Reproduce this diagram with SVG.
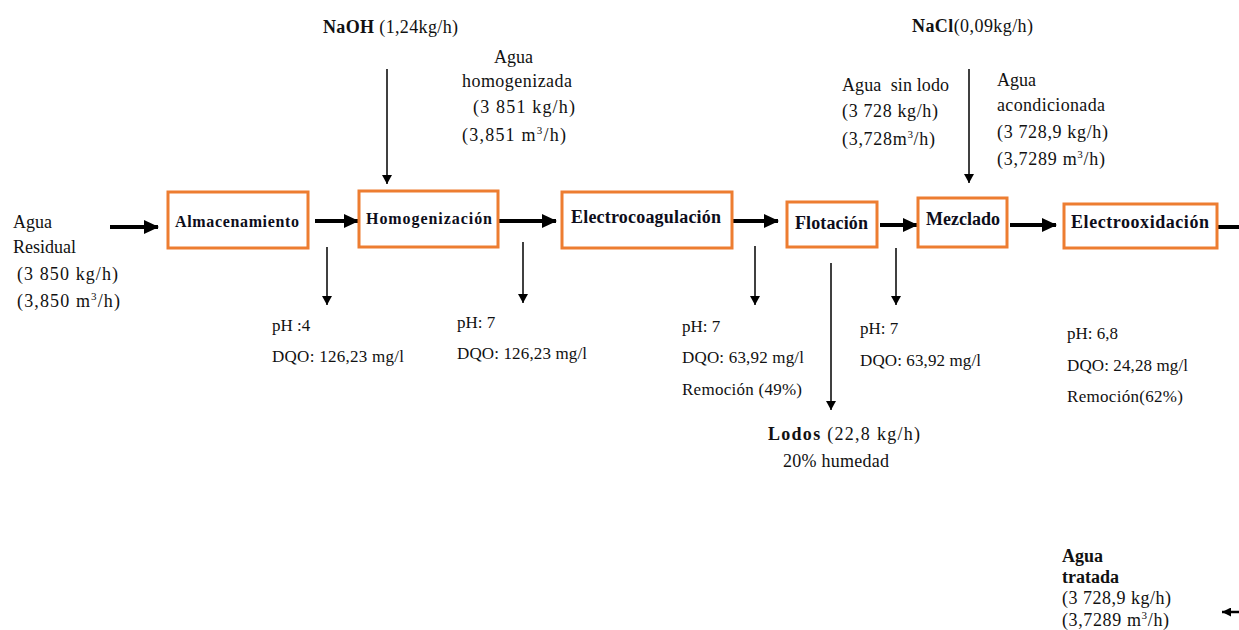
<svg xmlns="http://www.w3.org/2000/svg" width="1239" height="630" viewBox="0 0 1239 630">
<style>
text{font-family:"Liberation Serif","Times New Roman",serif;fill:#111;}
.t{font-size:18px;}
.s{font-size:17px;}
.b{font-weight:bold;}
.box{fill:#fff;stroke:#ED7D31;stroke-width:3;}
.lbl{font-weight:bold;fill:#0d0d1a;}
.main{stroke:#000;stroke-width:4;fill:none;}
.thin{stroke:#000;stroke-width:1.5;fill:none;}
.sup{font-size:11px;}
</style>
<defs>
<marker id="ah" markerUnits="userSpaceOnUse" markerWidth="15" markerHeight="14" refX="14" refY="7" orient="auto">
<path d="M0,0 L15,7 L0,14 z" fill="#000"/>
</marker>
<marker id="ahs" markerUnits="userSpaceOnUse" markerWidth="9" markerHeight="10" refX="9" refY="5" orient="auto">
<path d="M0,0 L9,5 L0,10 z" fill="#000"/>
</marker>
<marker id="ahm" markerUnits="userSpaceOnUse" markerWidth="9" markerHeight="9" refX="9" refY="4.5" orient="auto">
<path d="M0,0 L9,4.5 L0,9 z" fill="#000"/>
</marker>
</defs>

<g id="connectors">
<line class="main" x1="110" y1="227" x2="158" y2="227" marker-end="url(#ah)"/>
<line class="main" x1="315" y1="221" x2="358" y2="221" marker-end="url(#ah)"/>
<line class="main" x1="499" y1="221" x2="556" y2="221" marker-end="url(#ah)"/>
<line class="main" x1="733" y1="221" x2="778" y2="221" marker-end="url(#ah)"/>
<line class="main" x1="880" y1="225" x2="917" y2="225" marker-end="url(#ah)"/>
<line class="main" x1="1010" y1="225" x2="1056" y2="225" marker-end="url(#ah)"/>
<line class="main" x1="1217" y1="227" x2="1239" y2="227"/>
<line x1="1239" y1="612" x2="1222" y2="612" stroke="#000" stroke-width="2.5" marker-end="url(#ahm)"/>
<line class="thin" x1="387" y1="69" x2="387" y2="184" marker-end="url(#ahs)"/>
<line class="thin" x1="969" y1="69" x2="969" y2="183" marker-end="url(#ahs)"/>
<line class="thin" x1="327" y1="247" x2="327" y2="305" marker-end="url(#ahs)"/>
<line class="thin" x1="523" y1="242" x2="523" y2="303" marker-end="url(#ahs)"/>
<line class="thin" x1="755" y1="246" x2="755" y2="305" marker-end="url(#ahs)"/>
<line class="thin" x1="831" y1="263" x2="831" y2="410" stroke-width="2" marker-end="url(#ahs)"/>
<line class="thin" x1="896" y1="248" x2="896" y2="305" marker-end="url(#ahs)"/>
</g>

<g id="almacenamiento">
<rect class="box" x="168" y="192" width="140" height="56"/>
<text class="s lbl" x="175" y="227" textLength="124" lengthAdjust="spacing" style="font-size:16px">Almacenamiento</text>
</g>
<g id="homogenizacion">
<rect class="box" x="359" y="191" width="139" height="56"/>
<text class="s lbl" x="366" y="224" textLength="126" lengthAdjust="spacing" style="font-size:16px">Homogenización</text>
</g>
<g id="electrocoagulacion">
<rect class="box" x="562" y="192" width="170" height="56"/>
<text class="t lbl" x="571" y="223" textLength="150" lengthAdjust="spacing">Electrocoagulación</text>
</g>
<g id="flotacion">
<rect class="box" x="787" y="202" width="90" height="45"/>
<text class="t lbl" x="795" y="229" textLength="73" lengthAdjust="spacing">Flotación</text>
</g>
<g id="mezclado">
<rect class="box" x="918" y="198" width="89" height="49"/>
<text class="t lbl" x="926" y="225" textLength="74" lengthAdjust="spacing">Mezclado</text>
</g>
<g id="electrooxidacion">
<rect class="box" x="1064" y="204" width="153" height="44"/>
<text class="t lbl" x="1071" y="228" textLength="138" lengthAdjust="spacing">Electrooxidación</text>
</g>

<g id="agua-residual">
<text class="t" x="13" y="228">Agua</text>
<text class="t" x="13" y="253">Residual</text>
<text class="t" x="17" y="280" textLength="101" lengthAdjust="spacing">(3 850 kg/h)</text>
<text class="t" x="17" y="307" textLength="103" lengthAdjust="spacing">(3,850 m<tspan class="sup" dy="-7">3</tspan><tspan dy="7">/h)</tspan></text>
</g>

<g id="naoh">
<text class="t" x="323" y="33" textLength="135" lengthAdjust="spacing"><tspan class="b">NaOH</tspan> (1,24kg/h)</text>
</g>

<g id="agua-homogenizada">
<text class="t" x="494" y="63">Agua</text>
<text class="t" x="462" y="87" textLength="110" lengthAdjust="spacing">homogenizada</text>
<text class="t" x="473" y="113" textLength="102" lengthAdjust="spacing">(3 851 kg/h)</text>
<text class="t" x="462" y="141" textLength="104" lengthAdjust="spacing">(3,851 m<tspan class="sup" dy="-7">3</tspan><tspan dy="7">/h)</tspan></text>
</g>

<g id="nacl">
<text class="t" x="912" y="32" textLength="121" lengthAdjust="spacing"><tspan class="b">NaCl</tspan>(0,09kg/h)</text>
</g>

<g id="agua-sin-lodo">
<text class="t" x="842" y="91" textLength="107" lengthAdjust="spacing" style="white-space:pre">Agua  sin lodo</text>
<text class="t" x="842" y="117" textLength="96" lengthAdjust="spacing">(3 728 kg/h)</text>
<text class="t" x="842" y="145" textLength="93" lengthAdjust="spacing">(3,728m<tspan class="sup" dy="-7">3</tspan><tspan dy="7">/h)</tspan></text>
</g>

<g id="agua-acondicionada">
<text class="t" x="997" y="86">Agua</text>
<text class="t" x="997" y="111" textLength="108" lengthAdjust="spacing">acondicionada</text>
<text class="t" x="997" y="138" textLength="111" lengthAdjust="spacing">(3 728,9 kg/h)</text>
<text class="t" x="997" y="165" textLength="108" lengthAdjust="spacing">(3,7289 m<tspan class="sup" dy="-7">3</tspan><tspan dy="7">/h)</tspan></text>
</g>

<g id="param-1">
<text class="s" x="272" y="331">pH :4</text>
<text class="s" x="272" y="362" textLength="132" lengthAdjust="spacing">DQO: 126,23 mg/l</text>
</g>
<g id="param-2">
<text class="s" x="457" y="328">pH: 7</text>
<text class="s" x="457" y="359" textLength="130" lengthAdjust="spacing">DQO: 126,23 mg/l</text>
</g>
<g id="param-3">
<text class="s" x="682" y="332">pH: 7</text>
<text class="s" x="682" y="363" textLength="122" lengthAdjust="spacing">DQO: 63,92 mg/l</text>
<text class="s" x="682" y="395" textLength="120" lengthAdjust="spacing">Remoción (49%)</text>
</g>
<g id="param-4">
<text class="s" x="860" y="334">pH: 7</text>
<text class="s" x="860" y="366" textLength="121" lengthAdjust="spacing">DQO: 63,92 mg/l</text>
</g>
<g id="param-5">
<text class="s" x="1067" y="339">pH: 6,8</text>
<text class="s" x="1067" y="371" textLength="121" lengthAdjust="spacing">DQO: 24,28 mg/l</text>
<text class="s" x="1067" y="402" textLength="116" lengthAdjust="spacing">Remoción(62%)</text>
</g>

<g id="lodos">
<text class="t" x="768" y="440" textLength="152" lengthAdjust="spacing"><tspan class="b">Lodos</tspan> (22,8 kg/h)</text>
<text class="t" x="783" y="467" textLength="106" lengthAdjust="spacing">20% humedad</text>
</g>

<g id="agua-tratada">
<text class="t b" x="1062" y="562">Agua</text>
<text class="t b" x="1062" y="583">tratada</text>
<text class="t" x="1062" y="604" textLength="109" lengthAdjust="spacing">(3 728,9 kg/h)</text>
<text class="t" x="1062" y="626" textLength="107" lengthAdjust="spacing">(3,7289 m<tspan class="sup" dy="-7">3</tspan><tspan dy="7">/h)</tspan></text>
</g>
</svg>
